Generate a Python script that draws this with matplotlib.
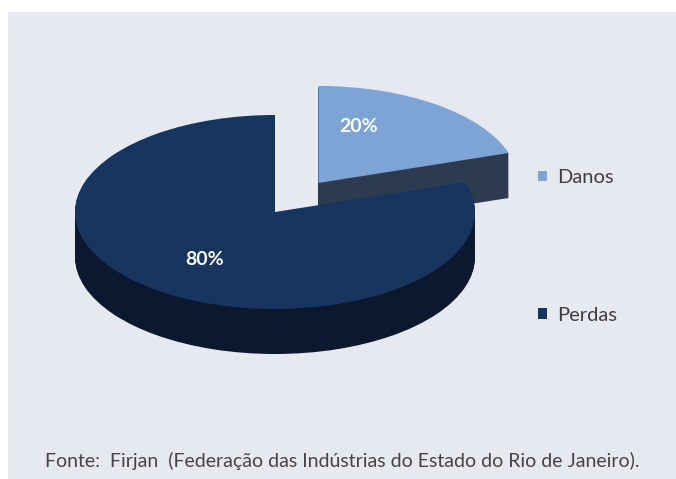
import numpy as np
import matplotlib.pyplot as plt
from matplotlib.patches import Rectangle, Patch

# Dados do gráfico
categorias = ['Danos', 'Perdas']
valores = [20, 80]
cores_topo = ['#7DA4D4', '#17355F']
cores_lado = ['#2C3B50', '#0C1730']
fonte_txt = 'Fonte:  Firjan  (Federação das Indústrias do Estado do Rio de Janeiro).'

plt.rcParams['font.family'] = ['Lato', 'DejaVu Sans']

W, H = 676, 479
fig = plt.figure(figsize=(W / 100, H / 100), dpi=100)
fig.patch.set_facecolor('white')

# painel cinza claro
fig.patches.append(Rectangle((8 / W, 0), 1, 1 - 12 / H, transform=fig.transFigure,
                             facecolor='#E7E9F1', edgecolor='none', zorder=-5))

# eixo da pizza: 1 unidade = 200 px na horizontal e 97 px na vertical
ax = fig.add_axes([0, 0, 1, 1])
ax.set_zorder(2)
cx, cy = 275, 212
rx, ry = 200, 97
explode = [0.37, 0]
prof = 45 / ry

# camadas da lateral (efeito 3D)
for d in np.linspace(prof, 0.01, 40):
    ax.pie(valores, startangle=90, counterclock=False, explode=explode,
           colors=cores_lado, center=(0, -d), wedgeprops=dict(linewidth=0))

# face superior
wedges, textos, pct = ax.pie(valores, startangle=90, counterclock=False,
                             explode=explode, colors=cores_topo,
                             autopct='%d%%', pctdistance=0.6,
                             wedgeprops=dict(linewidth=0),
                             textprops=dict(color='white', fontsize=14,
                                            fontweight='bold'))
x0, y0 = pct[0].get_position()
pct[0].set_position((x0 - 0.15, y0 + 0.1))

ax.set_aspect('auto')
ax.set_xlim(-cx / rx, (W - cx) / rx)
ax.set_ylim(-(H - cy) / ry, cy / ry)
ax.axis('off')

# legenda
handles = [Patch(facecolor=c, edgecolor='none') for c in cores_topo]
fig.legend(handles, categorias, loc='upper left', bbox_to_anchor=(520 / W, 1 - 151 / H),
           frameon=False, fontsize=14.5, labelcolor='#3F3F3F',
           handlelength=0.45, handleheight=0.45, handletextpad=0.5,
           labelspacing=6.0)

fig.text(45 / W, 1 - 461 / H, fonte_txt, fontsize=14, color='#444444',
         va='center', ha='left')

fig.savefig('out.png', dpi=100)
